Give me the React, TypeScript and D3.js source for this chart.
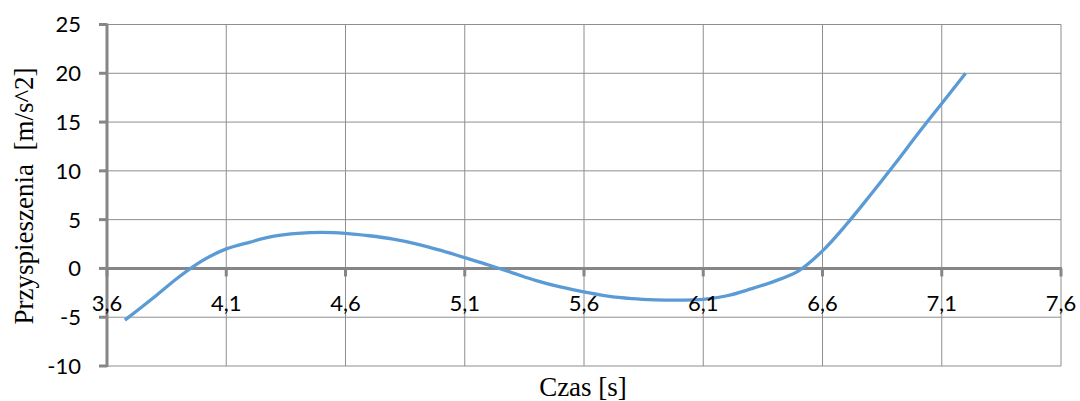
import React from "react";
import * as d3 from "d3";

const timeS = [3.675, 3.8, 3.9, 4.0, 4.1, 4.2, 4.3, 4.4, 4.5, 4.6, 4.7, 4.8, 4.9, 5.0, 5.1, 5.2, 5.3, 5.4, 5.5, 5.6, 5.7, 5.8, 5.9, 6.0, 6.1, 6.2, 6.3, 6.4, 6.5, 6.6, 6.7, 6.8, 6.9, 7.0, 7.1, 7.2];
const accel = [-5.3, -2.9, -0.9, 0.8, 2.0, 2.7, 3.3, 3.6, 3.7, 3.6, 3.35, 3.0, 2.5, 1.85, 1.1, 0.35, -0.45, -1.25, -1.9, -2.4, -2.85, -3.1, -3.22, -3.25, -3.18, -2.8, -2.1, -1.3, -0.25, 1.8, 4.5, 7.5, 10.6, 13.8, 16.9, 20.0];
const xTicks = [3.6, 4.1, 4.6, 5.1, 5.6, 6.1, 6.6, 7.1, 7.6];
const yTicks = [-10, -5, 0, 5, 10, 15, 20, 25];
const xTitle = "Czas [s]";
const yTitle = "Przyspieszenia  [m/s^2]";

const W = 1080;
const H = 401;
const left = 107, right = 1061, top = 24.5, bottom = 366;

export default function App() {
  const x = d3.scaleLinear().domain([3.6, 7.6]).range([left, right]);
  const y = d3.scaleLinear().domain([-10, 25]).range([bottom, top]);
  const pts = timeS.map((t, i) => [t, accel[i]] as [number, number]);
  const line = d3
    .line<[number, number]>()
    .x((d) => x(d[0]))
    .y((d) => y(d[1]))
    .curve(d3.curveCatmullRom.alpha(0.5));
  const gridColor = "#8e8e8e";
  const axisColor = "#868686";
  const fmt = (v: number) => v.toFixed(1).replace(".", ",");
  const sans = "Lato, 'Open Sans', sans-serif";
  const serif = "'Liberation Serif', 'Times New Roman', serif";
  return (
    <svg width={W} height={H} style={{ position: "absolute", left: 0, top: 0, background: "#fff" }}>
      {yTicks.map((v) => (
        <line key={"gy" + v} x1={left} x2={right} y1={y(v)} y2={y(v)} stroke={gridColor} strokeWidth={1} />
      ))}
      {xTicks.map((v) => (
        <line key={"gx" + v} x1={x(v)} x2={x(v)} y1={top} y2={bottom} stroke={gridColor} strokeWidth={1} />
      ))}
      <line x1={left} x2={left} y1={top - 1} y2={bottom + 1} stroke={axisColor} strokeWidth={3} />
      {yTicks.map((v) => (
        <line key={"ty" + v} x1={left - 8} x2={left} y1={y(v)} y2={y(v)} stroke={axisColor} strokeWidth={3} />
      ))}
      <line x1={left} x2={right + 1} y1={y(0)} y2={y(0)} stroke={axisColor} strokeWidth={3} />
      {xTicks.map((v) => (
        <line key={"tx" + v} x1={x(v)} x2={x(v)} y1={y(0)} y2={y(0) + 8} stroke={axisColor} strokeWidth={3} />
      ))}
      <path d={line(pts) || ""} fill="none" stroke="#5b9bd5" strokeWidth={3.3} strokeLinejoin="round" strokeLinecap="butt" />
      {yTicks.map((v) => (
        <text key={"ly" + v} x={81} y={y(v)} dy="0.36em" textAnchor="end" fontFamily={sans} fontSize={22} fill="#000">
          {v}
        </text>
      ))}
      {xTicks.map((v) => (
        <text key={"lx" + v} x={x(v)} y={311} textAnchor="middle" fontFamily={sans} fontSize={22} fill="#000">
          {fmt(v)}
        </text>
      ))}
      <text x={583} y={396} textAnchor="middle" fontFamily={serif} fontSize={27} fill="#000">
        {xTitle}
      </text>
      <text
        transform={`translate(33, 196) rotate(-90)`}
        textAnchor="middle"
        fontFamily={serif}
        fontSize={27}
        fill="#000"
        style={{ whiteSpace: "pre" }}
      >
        {yTitle}
      </text>
    </svg>
  );
}
